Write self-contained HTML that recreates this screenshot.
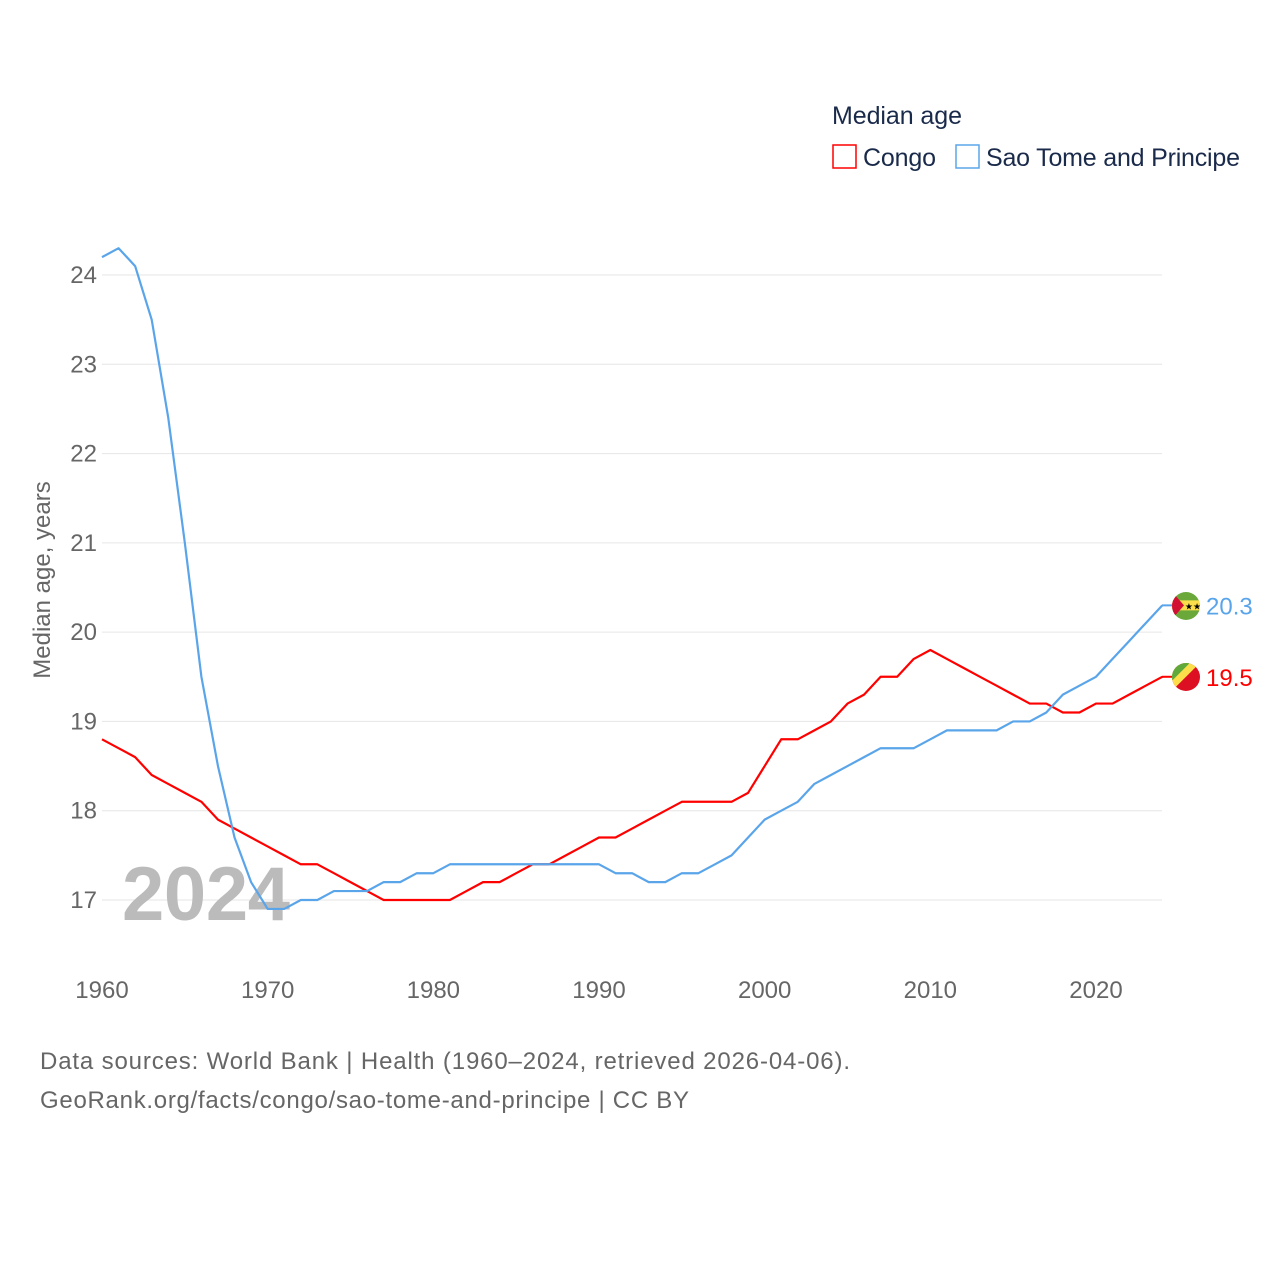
<!DOCTYPE html>
<html><head><meta charset="utf-8"><style>
body{margin:0;background:#fff;}
svg text{font-family:"Liberation Sans",sans-serif;}
</style></head><body>
<svg id="chart" width="1280" height="1280" viewBox="0 0 1280 1280" xmlns="http://www.w3.org/2000/svg">
<defs>
<clipPath id="c1"><circle cx="1186" cy="677" r="14"/></clipPath>
<clipPath id="c2"><circle cx="1186" cy="606" r="14"/></clipPath>
</defs>
<rect width="1280" height="1280" fill="#fff"/>
<g id="grid"></g>
<g id="yticks"></g>
<g id="xticks"></g>
<text x="122" y="920" font-size="76" font-weight="bold" fill="#bbb" textLength="168">2024</text>
<g id="lines"></g>
<text transform="translate(50,580) rotate(-90)" font-size="24" fill="#666" text-anchor="middle">Median age, years</text>
<text x="832" y="124" font-size="25" fill="#1a2a4a" textLength="130">Median age</text>
<g><rect x="833" y="145" width="23" height="23" fill="none" stroke="#f00" stroke-width="1.5"/><text x="863" y="166" font-size="25" fill="#1a2a4a" textLength="73">Congo</text></g>
<g><rect x="956" y="145" width="23" height="23" fill="none" stroke="#5aa5ea" stroke-width="1.5"/><text x="986" y="166" font-size="25" fill="#1a2a4a" textLength="254">Sao Tome and Principe</text></g>
<text x="40" y="1069" font-size="24" fill="#666" textLength="810">Data sources: World Bank | Health (1960–2024, retrieved 2026-04-06).</text>
<text x="40" y="1108" font-size="24" fill="#666" textLength="649">GeoRank.org/facts/congo/sao-tome-and-principe | CC BY</text>
</svg>
<script>
const years=[];for(let y=1960;y<=2024;y++)years.push(y);
const congo=[18.8,18.7,18.6,18.4,18.3,18.2,18.1,17.9,17.8,17.7,17.6,17.5,17.4,17.4,17.3,17.2,17.1,17.0,17.0,17.0,17.0,17.0,17.1,17.2,17.2,17.3,17.4,17.4,17.5,17.6,17.7,17.7,17.8,17.9,18.0,18.1,18.1,18.1,18.1,18.2,18.5,18.8,18.8,18.9,19.0,19.2,19.3,19.5,19.5,19.7,19.8,19.7,19.6,19.5,19.4,19.3,19.2,19.2,19.1,19.1,19.2,19.2,19.3,19.4,19.5];
const stp=[24.2,24.3,24.1,23.5,22.4,21.0,19.5,18.5,17.7,17.2,16.9,16.9,17.0,17.0,17.1,17.1,17.1,17.2,17.2,17.3,17.3,17.4,17.4,17.4,17.4,17.4,17.4,17.4,17.4,17.4,17.4,17.3,17.3,17.2,17.2,17.3,17.3,17.4,17.5,17.7,17.9,18.0,18.1,18.3,18.4,18.5,18.6,18.7,18.7,18.7,18.8,18.9,18.9,18.9,18.9,19.0,19.0,19.1,19.3,19.4,19.5,19.7,19.9,20.1,20.3];
const yTicks=[17,18,19,20,21,22,23,24];
const xTicks=[1960,1970,1980,1990,2000,2010,2020];
const X=y=>102+(y-1960)*994/60;
const Y=v=>900-(v-17)*625/7;
const NS="http://www.w3.org/2000/svg";
function mk(t,a,p){const e=document.createElementNS(NS,t);for(const k in a)e.setAttribute(k,a[k]);p.appendChild(e);return e;}
const grid=document.getElementById('grid'),yt=document.getElementById('yticks'),xt=document.getElementById('xticks'),ln=document.getElementById('lines');
yTicks.forEach(v=>{
 const l=mk('line',{x1:102,x2:1162,y1:Y(v),y2:Y(v),stroke:'#e6e6e6','stroke-width':1},grid);
 
 
 const t=mk('text',{x:97,y:Y(v)+8,'font-size':24,fill:'#666','text-anchor':'end'},yt);t.textContent=v;
 
 
});
xTicks.forEach(v=>{
 const t=mk('text',{x:X(v),y:998,'font-size':24,fill:'#666','text-anchor':'middle'},xt);t.textContent=v;
 
 
});
function series(vals,color,name,flag){
 const p=mk('polyline',{points:vals.map((v,i)=>X(years[i])+','+Y(v)).join(' '),fill:'none',stroke:color,'stroke-width':2.2,'stroke-linejoin':'round'},ln);
 
 
 const last=vals[vals.length-1],cy=Y(last);
 mk('line',{x1:1162,x2:1172,y1:cy,y2:cy,stroke:color,'stroke-width':2},ln);
 const g=mk('g',{},ln);
 
 
 if(flag==='congo'){
  const gg=mk('g',{'clip-path':'url(#c1)'},g);
  mk('rect',{x:1170,y:cy-16,width:32,height:32,fill:'#dc1022'},gg);
  mk('polygon',{points:`1170,${cy-16} 1202,${cy-16} 1170,${cy+16}`,fill:'#fbde4a'},gg);
  mk('polygon',{points:`1170,${cy-16} 1192,${cy-16} 1170,${cy+6}`,fill:'#5fa83a'},gg);
 } else {
  const gg=mk('g',{'clip-path':'url(#c2)'},g);
  mk('rect',{x:1170,y:cy-16,width:32,height:32,fill:'#6aa83a'},gg);
  mk('rect',{x:1170,y:cy-5,width:32,height:10,fill:'#fbde4a'},gg);
  mk('polygon',{points:`1170,${cy-16} 1184,${cy} 1170,${cy+16}`,fill:'#d21034'},gg);
  const s=mk('text',{x:1193,y:cy+4,'font-size':9,fill:'#000','text-anchor':'middle'},gg);s.textContent='★★';
 }
 const t=mk('text',{x:1206,y:cy+9,'font-size':24,fill:color},ln);t.textContent=last.toFixed(1);
 
 
}
series(congo,'#f00','congo','congo');
series(stp,'#5aa5ea','sao-tome','stp');
</script>
</body></html>
